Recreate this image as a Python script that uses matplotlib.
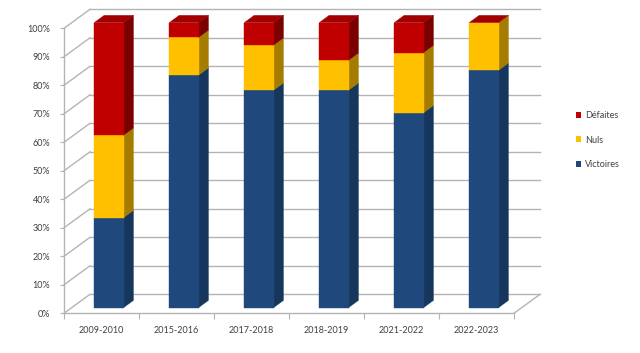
import matplotlib
matplotlib.use('Agg')
import matplotlib.pyplot as plt
from matplotlib.patches import Polygon, Patch
from matplotlib.ticker import PercentFormatter

seasons = ['2009-2010', '2015-2016', '2017-2018', '2018-2019', '2021-2022', '2022-2023']
victoires = [31.6, 81.6, 76.3, 76.3, 68.4, 83.3]
nuls = [28.9, 13.2, 15.8, 10.5, 21.1, 16.7]
defaites = [39.5, 5.2, 7.9, 13.2, 10.5, 0.0]
series_names = ['Victoires', 'Nuls', 'Défaites']
y_ticks = list(range(0, 101, 10))

front_colors = ['#1F497D', '#FFC000', '#C00000']
side_colors = ['#16365C', '#A67C00', '#7B0000']
top_color = '#A20000'
grid_color = '#B4B4B4'
text_color = '#404040'

plt.rcParams['font.family'] = ['Lato', 'DejaVu Sans']

W, H = 640, 353
fig = plt.figure(figsize=(W / 100, H / 100), dpi=100)
ax = fig.add_axes([64 / W, (H - 313.3) / H, 450 / W, 285 / H])
n = len(seasons)
ax.set_xlim(0, n)
ax.set_ylim(0, 100)

# depth offsets in data units
DX = 26 / 75
DY = 19 / 2.85
F0, F1 = 0.3, 0.68
BL, BR = 0.3, 0.69

# walls
for v in y_ticks:
    ax.plot([0, DX], [v, v + DY], color=grid_color, lw=1, clip_on=False, zorder=1)
    ax.plot([DX, n + DX], [v + DY, v + DY], color=grid_color, lw=1, clip_on=False, zorder=1)
ax.plot([n, n + DX], [0, DY], color=grid_color, lw=1, clip_on=False, zorder=1)

data = [victoires, nuls, defaites]
for i in range(n):
    b = 0.0
    x0 = i + BL
    x1 = i + BR
    for s, vals in enumerate(data):
        t = b + vals[i]
        if vals[i] > 0:
            front = [(x0 + F0 * DX, b + F0 * DY), (x1 + F0 * DX, b + F0 * DY),
                     (x1 + F0 * DX, t + F0 * DY), (x0 + F0 * DX, t + F0 * DY)]
            side = [(x1 + F0 * DX, b + F0 * DY), (x1 + F1 * DX, b + F1 * DY),
                    (x1 + F1 * DX, t + F1 * DY), (x1 + F0 * DX, t + F0 * DY)]
            ax.add_patch(Polygon(side, closed=True, facecolor=side_colors[s],
                                 edgecolor=side_colors[s], lw=0.3, clip_on=False, zorder=2))
            ax.add_patch(Polygon(front, closed=True, facecolor=front_colors[s],
                                 edgecolor=front_colors[s], lw=0.3, clip_on=False, zorder=2))
        b = t
    top = [(x0 + F0 * DX, b + F0 * DY), (x1 + F0 * DX, b + F0 * DY),
           (x1 + F1 * DX, b + F1 * DY), (x0 + F1 * DX, b + F1 * DY)]
    ax.add_patch(Polygon(top, closed=True, facecolor=top_color, edgecolor=top_color,
                         lw=0.3, clip_on=False, zorder=2))

for sp in ['top', 'right']:
    ax.spines[sp].set_visible(False)
for sp in ['left', 'bottom']:
    ax.spines[sp].set_color(grid_color)
    ax.spines[sp].set_linewidth(1)
    ax.spines[sp].set_zorder(3)

ax.set_yticks(y_ticks)
ax.yaxis.set_major_formatter(PercentFormatter(decimals=0))
ax.tick_params(axis='y', length=3, color=grid_color, labelcolor=text_color,
               labelsize=6.5, pad=7)
ax.set_xticks(range(n + 1))
ax.set_xticklabels([])
ax.set_xticks([i + 0.5 for i in range(n)], minor=True)
ax.set_xticklabels(seasons, minor=True)
ax.tick_params(axis='x', which='major', length=4, color=grid_color)
ax.tick_params(axis='x', which='minor', length=0, labelcolor=text_color,
               labelsize=6.5, pad=9)

handles = [Patch(facecolor=front_colors[s], edgecolor='none') for s in range(3)][::-1]
ax.legend(handles, series_names[::-1], loc='center left',
          bbox_to_anchor=(576 / W, 1 - 140 / H), bbox_transform=fig.transFigure,
          frameon=False, handlelength=0.6, handleheight=0.6, handletextpad=0.4,
          labelspacing=1.7, fontsize=6.5, borderpad=0, borderaxespad=0,
          labelcolor=text_color)

fig.savefig('out.png', dpi=100)
